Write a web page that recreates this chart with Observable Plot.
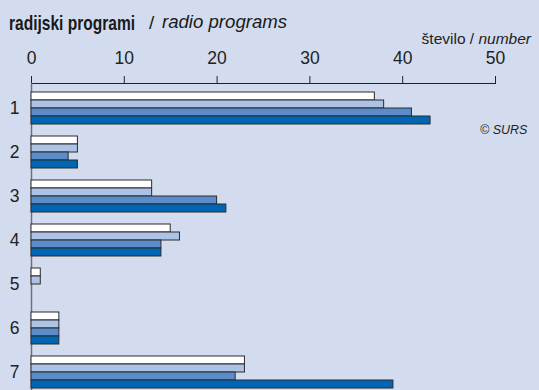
<!DOCTYPE html>
<html>
<head>
<meta charset="utf-8">
<script src="https://cdn.jsdelivr.net/npm/d3@7"></script>
<script src="https://cdn.jsdelivr.net/npm/@observablehq/plot@0.6"></script>
<style>
  html, body { margin: 0; padding: 0; background: #d3dcee; }
  #wrap { position: relative; width: 539px; height: 390px; overflow: hidden; background: #d3dcee; font-family: "Liberation Sans", Arial, sans-serif; color: #222; }
  #wrap svg { position: absolute; left: 0; top: 0; }
  .t { position: absolute; white-space: nowrap; color: #1a1a1a; line-height: 1; }
  .tb { left: 9px; top: 12px; font-size: 21px; font-weight: bold; transform: scaleX(0.74); transform-origin: 0 0; }
  .ts { left: 149px; top: 13px; font-size: 19px; }
  .ti { left: 162px; top: 13px; font-size: 18.6px; font-style: italic; }
  .unit { position: absolute; right: 8px; top: 31px; font-size: 15.5px; white-space: nowrap; line-height: 1; }
  .src { position: absolute; left: 480px; top: 124px; font-size: 12.5px; font-style: italic; white-space: nowrap; line-height: 1; }
</style>
</head>
<body>
<div id="wrap">
  <span class="t tb">radijski programi</span>
  <span class="t ts">/</span>
  <span class="t ti">radio programs</span>
  <div class="unit">število / <i>number</i></div>
  <div class="src">© SURS</div>
</div>
<script>
const programs = ["1", "2", "3", "4", "5", "6", "7"];
const seriesA = [37, 5, 13, 15, 1, 3, 23];  // white
const seriesB = [38, 5, 13, 16, 1, 3, 23];  // light blue
const seriesC = [41, 4, 20, 14, 0, 3, 22];  // mid blue
const seriesD = [43, 5, 21, 14, 0, 3, 39];  // dark blue
const xTicks = [0, 10, 20, 30, 40, 50];

const colors = ["#ffffff", "#adc3e6", "#5b8bc8", "#0066b3"];
const allSeries = [seriesA, seriesB, seriesC, seriesD];
const barH = 8;

const marks = [Plot.ruleX([0], {stroke: "#6b7080", strokeWidth: 1.5})];
allSeries.forEach((vals, i) => {
  const data = programs.map((p, j) => ({program: p, value: vals[j]}));
  marks.push(Plot.barX(data, {
    x: "value", y: "program",
    fill: colors[i], stroke: "#2b2b2b", strokeWidth: 1,
    insetTop: barH * i, insetBottom: barH * (3 - i)
  }));
});

const chart = Plot.plot({
  width: 539, height: 390,
  marginTop: 83, marginLeft: 31, marginRight: 44, marginBottom: 0,
  style: {background: "transparent", fontFamily: "'Liberation Sans', Arial, sans-serif", fontSize: "17.5px", color: "#222"},
  x: {domain: [0, 50], ticks: xTicks, axis: "top", label: null, tickSize: 8, tickPadding: 11.5, line: true},
  y: {domain: programs, range: [89.5, 389.5], paddingInner: 0.283, paddingOuter: 0, axis: "left", tickSize: 0, tickPadding: 12, label: null},
  marks
});
document.getElementById("wrap").prepend(chart);
</script>
</body>
</html>
